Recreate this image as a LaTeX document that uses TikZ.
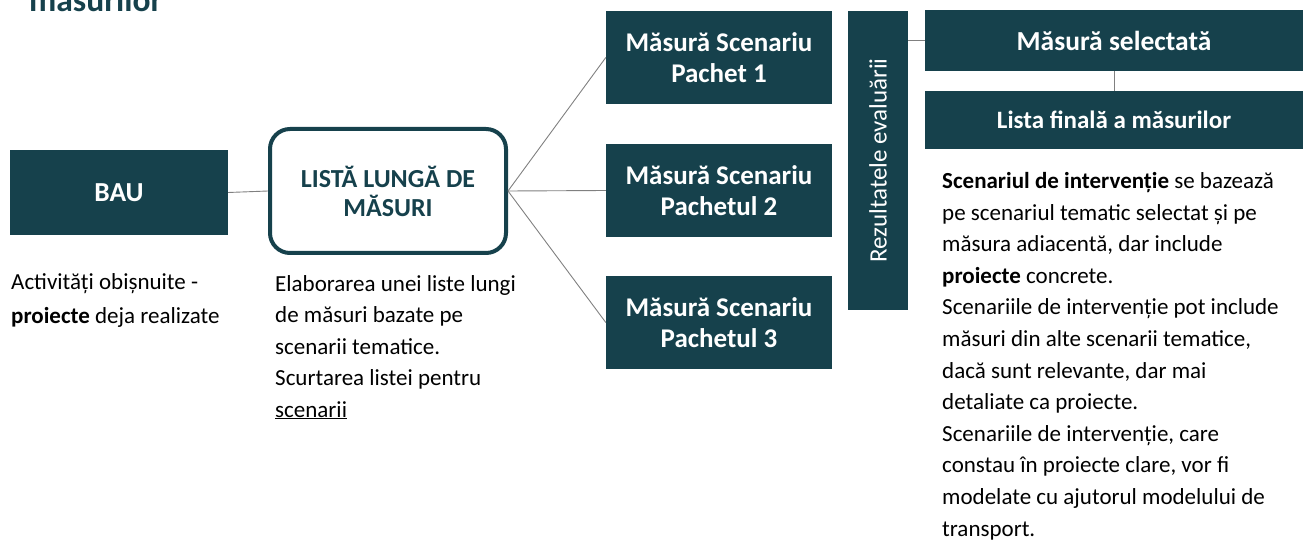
\documentclass[tikz,border=0pt]{standalone}
\usepackage{fontspec}
\setmainfont{Carlito}
\definecolor{teal1}{RGB}{22,65,76}
\definecolor{conn}{RGB}{128,128,128}
\begin{document}
\begin{tikzpicture}[x=1pt,y=-1pt,
  darkbox/.style={fill=teal1,draw=none,text=white,font=\bfseries\fontsize{27}{31}\selectfont,align=center,inner sep=0pt},
  connector/.style={draw=conn,line width=0.9pt},
  bodytext/.style={anchor=base west,align=left,inner sep=0pt,text=black}]
\useasboundingbox (0,0) rectangle (1303,545);
\clip (0,0) rectangle (1303,545);
\node[anchor=base west,inner sep=0pt,text=teal1,font=\bfseries\fontsize{33.5}{40}\selectfont] (title) at (29,12) {măsurilor};
\node[darkbox,minimum width=218pt,minimum height=85pt,font=\bfseries\fontsize{27.5}{31}\selectfont] (bau) at (119,192.5) {BAU};
\node[draw=teal1,line width=4pt,fill=white,rounded corners=20pt,minimum width=236pt,minimum height=124pt,text=teal1,font=\bfseries\fontsize{26}{29}\selectfont,align=center,inner sep=0pt] (lista) at (388,191) {LISTĂ LUNGĂ DE\\MĂSURI};
\node[darkbox,minimum width=226pt,minimum height=93pt] (p1) at (719,57.5) {Măsură Scenariu\\Pachet 1};
\node[darkbox,minimum width=226pt,minimum height=93pt] (p2) at (719,190.5) {Măsură Scenariu\\Pachetul 2};
\node[darkbox,minimum width=226pt,minimum height=93pt] (p3) at (719,322.5) {Măsură Scenariu\\Pachetul 3};
\node[darkbox,minimum width=60pt,minimum height=299pt] (rez) at (878,160.5) {};
\node[rotate=90,text=white,inner sep=0pt,font=\fontsize{25}{30}\selectfont] (reztext) at (rez.center) {Rezultatele evaluării};
\node[darkbox,minimum width=378pt,minimum height=61pt,font=\bfseries\fontsize{27.5}{31}\selectfont] (sel) at (1114,40.5) {Măsură selectată};
\node[darkbox,minimum width=378pt,minimum height=58pt,font=\bfseries\fontsize{25}{30}\selectfont] (fin) at (1114,120) {Lista finală a măsurilor};
\draw[connector] (bau.east) -- (lista.west);
\draw[connector] (lista.east) -- (p1.west);
\draw[connector] (lista.east) -- (p2.west);
\draw[connector] (lista.east) -- (p3.west);
\draw[connector] (rez.east |- sel.west) -- (sel.west);
\draw[connector] (sel.south) -- (fin.north);
\node[bodytext,font=\fontsize{23}{33}\selectfont] (baut) at (11,323) {Activități obișnuite -\\\textbf{proiecte} deja realizate};
\node[bodytext,font=\fontsize{23}{31.5}\selectfont] (listat) at (275,417) {Elaborarea unei liste lungi\\de măsuri bazate pe\\scenarii tematice.\\Scurtarea listei pentru\\\underline{scenarii}};
\node[bodytext,font=\fontsize{23}{31.6}\selectfont] (fint) at (942,536) {\textbf{Scenariul de intervenție} se bazează\\pe scenariul tematic selectat și pe\\măsura adiacentă, dar include\\\textbf{proiecte} concrete.\\Scenariile de intervenție pot include\\măsuri din alte scenarii tematice,\\dacă sunt relevante, dar mai\\detaliate ca proiecte.\\Scenariile de intervenție, care\\constau în proiecte clare, vor fi\\modelate cu ajutorul modelului de\\transport.};
\end{tikzpicture}
\end{document}
